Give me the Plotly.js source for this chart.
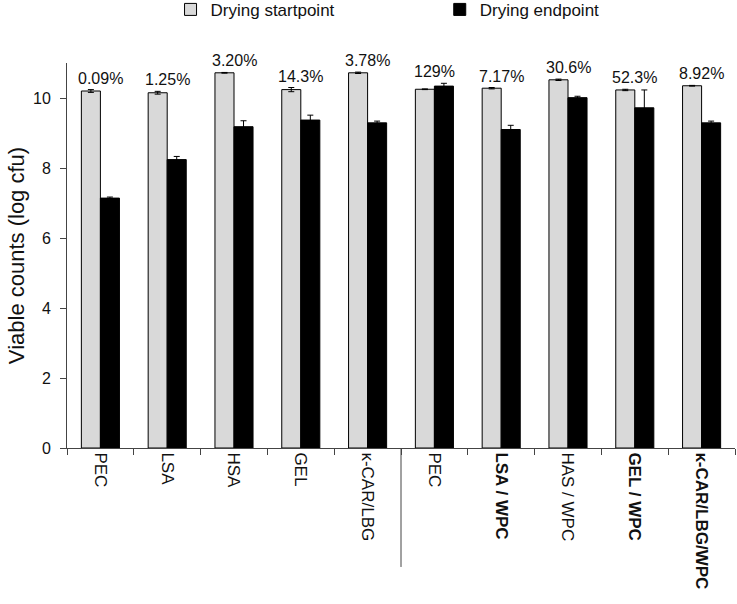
<!DOCTYPE html>
<html>
<head>
<meta charset="utf-8">
<script src="https://cdn.plot.ly/plotly-3.0.1.min.js"></script>
<style>html,body{margin:0;padding:0;background:#fff}</style>
</head>
<body>
<div id="chart" style="width:737px;height:604px"></div>
<script>
var categories = ["PEC", "LSA", "HSA", "GEL", "κ-CAR/LBG", "PEC ", "<b>LSA / WPC</b>", "HAS / WPC", "<b>GEL / WPC</b>", "<b>κ-CAR/LBG/WPC</b>"];
var startValues = [10.20, 10.15, 10.72, 10.24, 10.72, 10.25, 10.28, 10.52, 10.23, 10.35];
var startErrors = [0.04, 0.04, 0.01, 0.06, 0.02, 0.01, 0.02, 0.02, 0.02, 0.01];
var endValues = [7.14, 8.24, 9.18, 9.37, 9.29, 10.34, 9.10, 10.01, 9.72, 9.29];
var endErrors = [0.03, 0.09, 0.17, 0.14, 0.05, 0.08, 0.12, 0.04, 0.51, 0.05];
var survivalLabels = ["0.09%", "1.25%", "3.20%", "14.3%", "3.78%", "129%", "7.17%", "30.6%", "52.3%", "8.92%"];

var FONT = "Liberation Sans, Arial, sans-serif";
var TXT = "#111";

var traces = [
  {
    type: "bar", name: "Drying startpoint", x: categories, y: startValues,
    marker: {color: "#d9d9d9", line: {color: "#000", width: 1}},
    error_y: {type: "data", array: startErrors, visible: true, color: "#000", thickness: 1, width: 3},
    legend: "legend"
  },
  {
    type: "bar", name: "Drying endpoint", x: categories, y: endValues,
    marker: {color: "#000", line: {color: "#000", width: 1}},
    error_y: {type: "data", array: endErrors, visible: true, color: "#000", thickness: 1, width: 3},
    legend: "legend2"
  }
];

var annotations = categories.map(function (c, i) {
  var top = Math.max(startValues[i] + startErrors[i], endValues[i] + endErrors[i]);
  return {
    x: c, y: top, xref: "x", yref: "y", text: survivalLabels[i],
    showarrow: false, yanchor: "bottom", yshift: 1,
    font: {family: FONT, size: 16, color: TXT}
  };
});

var layout = {
  width: 737, height: 604,
  margin: {l: 67, r: 2, t: 63, b: 156, autoexpand: false},
  paper_bgcolor: "#fff", plot_bgcolor: "#fff",
  font: {family: FONT, color: TXT},
  barmode: "group", bargap: 0.43, bargroupgap: 0,
  showlegend: true,
  legend: {orientation: "h", x: 0.155, xanchor: "left", y: 1.138, yanchor: "middle",
           font: {family: FONT, size: 17, color: TXT}, bgcolor: "rgba(0,0,0,0)"},
  legend2: {orientation: "h", x: 0.558, xanchor: "left", y: 1.138, yanchor: "middle",
           font: {family: FONT, size: 17, color: TXT}, bgcolor: "rgba(0,0,0,0)"},
  xaxis: {
    type: "category", tickangle: 90, tickson: "boundaries",
    ticks: "outside", ticklen: 6, tickcolor: "#444",
    showline: true, linecolor: "#444", linewidth: 1,
    showgrid: false, zeroline: false,
    tickfont: {family: FONT, size: 17, color: TXT}
  },
  yaxis: {
    range: [0, 11], tickvals: [0, 2, 4, 6, 8, 10],
    ticks: "outside", ticklen: 6, tickcolor: "#444", ticklabelstandoff: 6,
    showline: true, linecolor: "#444", linewidth: 1,
    showgrid: false, zeroline: false,
    tickfont: {family: FONT, size: 16, color: TXT},
    title: {text: "Viable counts (log cfu)", font: {family: FONT, size: 22, color: TXT}, standoff: 2}
  },
  shapes: [{
    type: "line", xref: "x", yref: "paper", x0: 4.5, x1: 4.5, y0: 0, y1: -0.309,
    line: {color: "#444", width: 1}
  }],
  annotations: annotations
};

Plotly.newPlot("chart", traces, layout, {displayModeBar: false, staticPlot: true});
</script>
</body>
</html>
